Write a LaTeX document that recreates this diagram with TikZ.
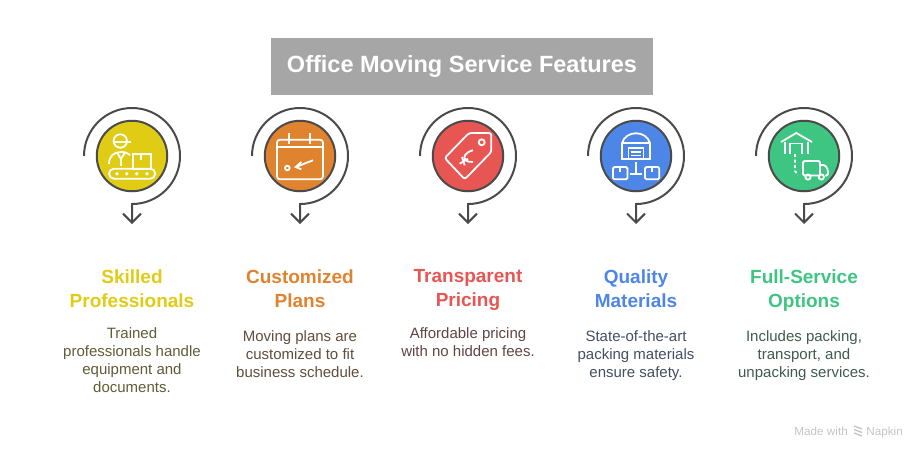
\documentclass[tikz,border=0pt]{standalone}
\usepackage{fontspec}
\setmainfont{Liberation Sans}
\usetikzlibrary{arrows.meta}
\definecolor{skilled}{HTML}{E0CB15}
\definecolor{custom}{HTML}{E0832F}
\definecolor{pricing}{HTML}{E85654}
\definecolor{quality}{HTML}{4E86E8}
\definecolor{service}{HTML}{3EC581}
\definecolor{ring}{HTML}{4A4A4A}
\definecolor{banner}{HTML}{A6A6A6}
\definecolor{footer}{HTML}{C4C4C4}
\newcommand{\iconskilled}{
	\draw[icon] (-11.7,15) circle (6.7);
	\draw[icon] (-19,14) -- (-0.7,14);
	\draw[icon] (-23,-8) .. controls (-23,0) and (-18,4) .. (-11,4) .. controls (-7,4) and (-4,3) .. (-2,1);
	\draw[icon] (-15,3.5) -- (-11,-3) -- (-7,3.5);
	\draw[icon] (-11,-3) -- (-11,-10);
	\draw[icon, rounded corners=5] (-23,-12.7) rectangle (23.3,-22.7);
	\draw[icon] (1,-12.7) rectangle (18.7,2.3);
	\draw[icon] (9.3,2.3) -- (9.3,-4.3);
	\foreach \x in {-15,-5.3,4.7,15}
		\fill[white] (\x,-17.7) circle (1.9);
}
\newcommand{\iconcustom}{
	\draw[icon, rounded corners=3] (-23,16.3) rectangle (23,-23.3);
	\draw[icon] (-23,9) -- (23,9);
	\foreach \x in {-11.3,9.7}
		\draw[icon] (\x,23) -- (\x,11.7);
	\draw[icon] (13,-4.3) -- (-4.3,-11);
	\draw[icon] (1.3,-6) -- (-4.3,-11) -- (1.3,-13.3);
	\draw[icon] (-12.7,-12) circle (2.3);
}
\newcommand{\iconpricing}{
	\draw[icon, rounded corners=2.5] (23.3,23) -- (1,23) -- (-23.3,-2) -- (-3.3,-23.3) -- (23.3,4) -- cycle;
	\draw[icon] (13.7,13.7) circle (3);
	\draw[icon] (5,5.7) .. controls (-3,4) and (-5,-2) .. (-3,-3) .. controls (-1,-6) and (2,-6) .. (5,-6);
	\draw[icon] (-8.3,-7.7) -- (0,-2.7);
	\draw[icon] (-6,-1) -- (-3.3,-9.3);
}
\newcommand{\iconquality}{
	\draw[icon] (-14,-3) -- (-14,13) .. controls (-10,26) and (10,26) .. (14,13) -- (14,-3) -- cycle;
	\draw[icon] (-14,13) -- (14,13);
	\draw[icon] (-7.5,-3) -- (-7.5,8.3) -- (7.5,8.3) -- (7.5,-3);
	\draw[icon] (-5,4) -- (5,4);
	\draw[icon] (-5,0.5) -- (5,0.5);
	\draw[icon] (0,-6) -- (0,-18);
	\draw[icon] (-6,-18) -- (6,-18);
	\draw[icon, rounded corners=1.5] (-23,-11) rectangle (-8.5,-23.3);
	\draw[icon, rounded corners=1.5] (9,-11) rectangle (23.3,-23.3);
	\draw[icon] (-15.7,-11) -- (-15.7,-16);
	\draw[icon] (16.2,-11) -- (16.2,-16);
}
\newcommand{\iconservice}{
	\draw[icon] (-23,14) -- (-7.7,23) -- (8,14);
	\draw[icon] (-19,14) -- (-19,2);
	\draw[icon] (4,14) -- (4,2);
	\draw[icon] (-14,2) -- (-14,12.5) -- (-2,12.5) -- (-2,2);
	\draw[icon, dash pattern=on 3pt off 2.5pt] (-9,2) -- (-9,-15) -- (-6,-19);
	\draw[icon, rounded corners=1.5] (16,-19.5) -- (-1,-19.5) -- (-1,-5) -- (16,-5) -- (16,-19.5);
	\draw[icon, rounded corners=1.5] (16,-9) -- (21,-9) -- (24,-14) -- (24,-19.5) -- (21,-19.5);
	\draw[icon] (4,-21) circle (2.6);
	\draw[icon] (17.3,-21) circle (2.6);
}
\begin{document}
\begin{tikzpicture}[x=1pt, y=1pt, icon/.style={draw=white, line width=1.8pt}]
	\tikzstyle{feature} = [circle, minimum size=70.5pt, inner sep=0pt, outer sep=0pt, line width=2pt, draw=ring]
	\tikzstyle{heading} = [anchor=north, align=center, inner sep=0pt, font=\fontsize{19}{24}\selectfont\bfseries, execute at begin node=\strut]
	\tikzstyle{detail}  = [anchor=north, align=center, inner sep=0pt, font=\fontsize{15}{18}\selectfont, execute at begin node=\strut]
	\tikzstyle{sweep}   = [draw=ring, line width=2pt, -{Straight Barb[length=9pt, width=18pt]}]
	\tikzstyle{credit}  = [anchor=base east, text=footer, inner sep=0pt, font=\fontsize{11.7}{14}\selectfont]

	\useasboundingbox (0,0) rectangle (924,-456);

	\node[fill=banner, text=white, minimum width=382pt, minimum height=57pt, inner sep=0pt, font=\fontsize{23.5}{28}\selectfont\bfseries] (title) at (462,-66.5) {Office Moving Service Features};

	\foreach \name/\x/\y/\lines in {
		skilled/132/-327.4/{Trained\\professionals handle\\equipment and\\documents.},
		custom/300/-330.4/{Moving plans are\\customized to fit\\business schedule.},
		pricing/468/-327.4/{Affordable pricing\\with no hidden fees.},
		quality/636/-330.4/{State-of-the-art\\packing materials\\ensure safety.},
		service/804/-330.4/{Includes packing,\\transport, and\\unpacking services.}}
	{
		\node[feature, fill=\name] (\name) at (\x,-156) {};
		\coordinate (start\name) at (\x-48,-156);
		\coordinate (tip\name) at (\x,-224);
		\draw[sweep] (start\name) arc[start angle=180, end angle=-90, radius=48] -- (tip\name);
		\node[detail, text=\name!25!black!80] (text\name) at (\x,\y) {\lines};
		\begin{scope}[shift={(\name.center)}]
			\csname icon\name\endcsname
		\end{scope}
	}

	\foreach \name/\x/\lines in {
		skilled/132/{Skilled\\Professionals},
		custom/300/{Customized\\Plans},
		pricing/468/{Transparent\\Pricing},
		quality/636/{Quality\\Materials},
		service/804/{Full-Service\\Options}}
		\node[heading, text=\name] (head\name) at (\x,-269.2) {\lines};

	\node[credit] (brand) at (903,-435.5) {Napkin};
	\node[credit] (made) at (848,-435.5) {Made with};
	\foreach \y in {-426,-429.5,-433}
		\draw[footer, line width=1.3pt] (854,\y) -- (862,\y-3);
\end{tikzpicture}
\end{document}
